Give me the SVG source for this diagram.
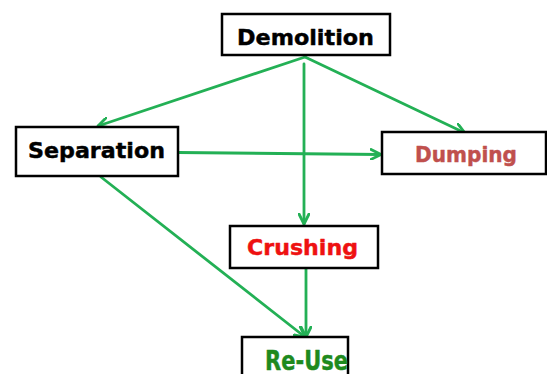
<svg xmlns="http://www.w3.org/2000/svg" width="547" height="374" viewBox="0 0 547 374">
<style>
.box{fill:#fff;stroke:#000;stroke-width:2.5}
.t{font-family:"DejaVu Sans",sans-serif;font-weight:bold;font-size:22px;stroke-width:0.45;stroke-linejoin:round}
.c{fill:none;stroke:#23b055;stroke-width:2.8;stroke-linecap:round}
</style>
<defs>
<marker id="ah" viewBox="0 0 12 12" refX="11" refY="6" markerWidth="12" markerHeight="12" markerUnits="userSpaceOnUse" orient="auto">
<path d="M1,1 L11,6 L1,11" fill="none" stroke="#23b055" stroke-width="2.8" stroke-linecap="round" stroke-linejoin="round"/>
</marker>
</defs>
<rect width="547" height="374" fill="#fff"/>
<g id="connectors">
<line class="c" x1="305" y1="57" x2="98" y2="126" marker-end="url(#ah)"/>
<line class="c" x1="305" y1="57" x2="465" y2="133" marker-end="url(#ah)"/>
<line class="c" x1="304" y1="64" x2="304" y2="224" marker-end="url(#ah)"/>
<line class="c" x1="178" y1="152.5" x2="381" y2="154.5" marker-end="url(#ah)"/>
<line class="c" x1="101" y1="177" x2="305" y2="337" marker-end="url(#ah)"/>
<line class="c" x1="306" y1="268" x2="306" y2="337" marker-end="url(#ah)"/>
</g>
<g id="demolition">
<rect class="box" x="222" y="14" width="168" height="41"/>
<text class="t" x="237" y="44.5" textLength="137" lengthAdjust="spacingAndGlyphs" fill="#000" stroke="#000">Demolition</text>
</g>
<g id="separation">
<rect class="box" x="16" y="127" width="162" height="49"/>
<text class="t" x="28" y="158" textLength="137" lengthAdjust="spacingAndGlyphs" fill="#000" stroke="#000">Separation</text>
</g>
<g id="dumping">
<rect class="box" x="382" y="132" width="164" height="42"/>
<text class="t" x="415" y="161.5" textLength="102" lengthAdjust="spacingAndGlyphs" fill="#c0504d" stroke="#c0504d">Dumping</text>
</g>
<g id="crushing">
<rect class="box" x="230" y="226" width="148" height="42"/>
<text class="t" x="247" y="254.5" textLength="111" lengthAdjust="spacingAndGlyphs" fill="#ee1111" stroke="#ee1111">Crushing</text>
</g>
<g id="reuse">
<rect class="box" x="242" y="337" width="106" height="50"/>
<text class="t" x="265" y="369.5" textLength="83" lengthAdjust="spacingAndGlyphs" fill="#1e8a1e" stroke="#1e8a1e" style="font-size:26px">Re-Use</text>
</g>
</svg>
